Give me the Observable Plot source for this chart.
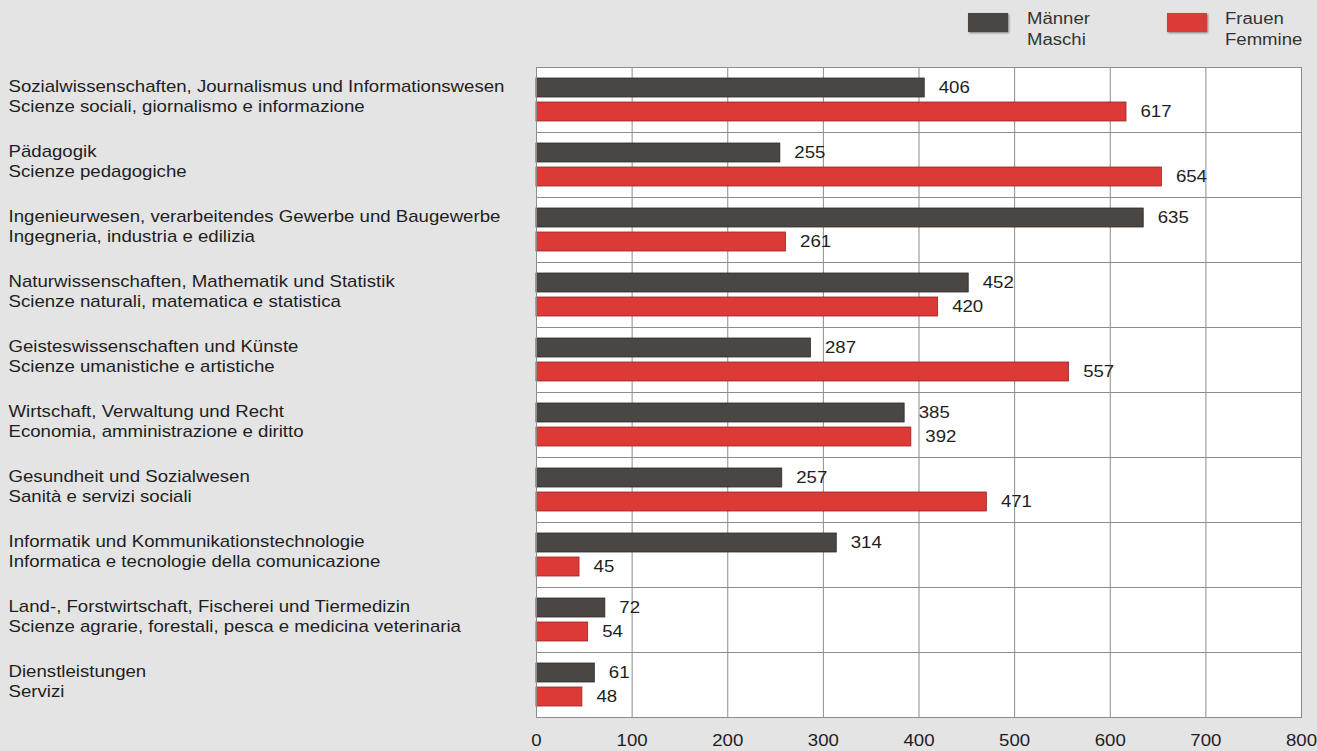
<!DOCTYPE html>
<html>
<head>
<meta charset="utf-8">
<script src="https://cdn.jsdelivr.net/npm/d3@7"></script>
<script src="https://cdn.jsdelivr.net/npm/@observablehq/plot@0.6"></script>
<style>
  html, body { margin: 0; padding: 0; background: #e4e4e4; }
  body { width: 1317px; height: 751px; position: relative; overflow: hidden; font-family: "Liberation Sans", Arial, sans-serif; }
  #chart { position: absolute; left: 0; top: 0; }
  .legend { position: absolute; top: 8px; font-size: 16px; color: #333; line-height: 21px; }
  .legend .sw { position: absolute; top: 5px; width: 40px; height: 19px; box-shadow: 1px 1px 2px rgba(0,0,0,0.45); }
  .legend .lbl { position: absolute; top: 0; white-space: nowrap; transform: scaleX(1.16); transform-origin: left center; }
</style>
</head>
<body>
<div id="chart"></div>
<div class="legend" style="left:968px;">
  <div class="sw" style="left:0; background:#4a4644;"></div>
  <div class="lbl" style="left:59px;">Männer<br>Maschi</div>
</div>
<div class="legend" style="left:1167px;">
  <div class="sw" style="left:0; background:#dc3a37;"></div>
  <div class="lbl" style="left:58px;">Frauen<br>Femmine</div>
</div>
<script>
const categoriesDE = [
  "Sozialwissenschaften, Journalismus und Informationswesen",
  "Pädagogik",
  "Ingenieurwesen, verarbeitendes Gewerbe und Baugewerbe",
  "Naturwissenschaften, Mathematik und Statistik",
  "Geisteswissenschaften und Künste",
  "Wirtschaft, Verwaltung und Recht",
  "Gesundheit und Sozialwesen",
  "Informatik und Kommunikationstechnologie",
  "Land-, Forstwirtschaft, Fischerei und Tiermedizin",
  "Dienstleistungen"
];
const categoriesIT = [
  "Scienze sociali, giornalismo e informazione",
  "Scienze pedagogiche",
  "Ingegneria, industria e edilizia",
  "Scienze naturali, matematica e statistica",
  "Scienze umanistiche e artistiche",
  "Economia, amministrazione e diritto",
  "Sanità e servizi sociali",
  "Informatica e tecnologie della comunicazione",
  "Scienze agrarie, forestali, pesca e medicina veterinaria",
  "Servizi"
];
const maschi  = [406, 255, 635, 452, 287, 385, 257, 314, 72, 61];
const femmine = [617, 654, 261, 420, 557, 392, 471, 45, 54, 48];
const xTicks = [0, 100, 200, 300, 400, 500, 600, 700, 800];

const cats = categoriesDE.map((de, i) => ({cat: de, label: de + "\n" + categoriesIT[i]}));
const data = [];
categoriesDE.forEach((de, i) => {
  data.push({cat: de, sex: "M", value: maschi[i]});
  data.push({cat: de, sex: "F", value: femmine[i]});
});

const chart = Plot.plot({
  width: 1317,
  height: 751,
  marginTop: 66,
  marginBottom: 33,
  marginLeft: 536,
  marginRight: 16,
  style: {background: "transparent", fontFamily: "'Liberation Sans', Arial, sans-serif", fontSize: "16px", color: "#222"},
  x: {domain: [0, 800], axis: null},
  y: {domain: ["M", "F"], paddingInner: 0.2, paddingOuter: 0.43, axis: null},
  fy: {domain: categoriesDE, padding: 0, axis: null},
  color: {domain: ["M", "F"], range: ["#4a4644", "#dc3a37"]},
  marks: [
    Plot.frame({fill: "white"}),
    Plot.gridX(xTicks.slice(1, -1), {stroke: "#8c8c8c", strokeOpacity: 1, strokeWidth: 1}),
    Plot.barX(data, {x: "value", y: "sex", fy: "cat", fill: "sex", stroke: d => d.sex === "M" ? "#2e2a29" : "#9a2422", strokeWidth: 0.8}),
    Plot.frame({stroke: "#8c8c8c", strokeWidth: 1}),
    Plot.text(data, {x: "value", y: "sex", fy: "cat", text: d => String(d.value), dx: 14, textAnchor: "start", fontSize: 16, fill: "#1e1e1e"}),
    Plot.text(cats, {fy: "cat", text: "label", frameAnchor: "left", dx: -528, dy: -4, textAnchor: "start", lineHeight: 1.25, fontSize: 16, fill: "#1e1e1e"}),
    Plot.axisX(xTicks, {anchor: "bottom", tickSize: 0, tickPadding: 17, fontSize: 16, fill: "#1e1e1e", label: null})
  ]
});
// the reference's lettering is drawn slightly wide: stretch each text horizontally about its anchor
chart.querySelectorAll("text").forEach(t => {
  const tr = t.getAttribute("transform");
  if (tr) {
    t.setAttribute("transform", tr + " scale(1.165,1)");
  } else {
    const x = +(t.getAttribute("x") || 0), y = +(t.getAttribute("y") || 0);
    t.removeAttribute("x"); t.removeAttribute("y");
    t.setAttribute("transform", `translate(${x},${y}) scale(1.165,1)`);
  }
});
document.getElementById("chart").appendChild(chart);
</script>
</body>
</html>
